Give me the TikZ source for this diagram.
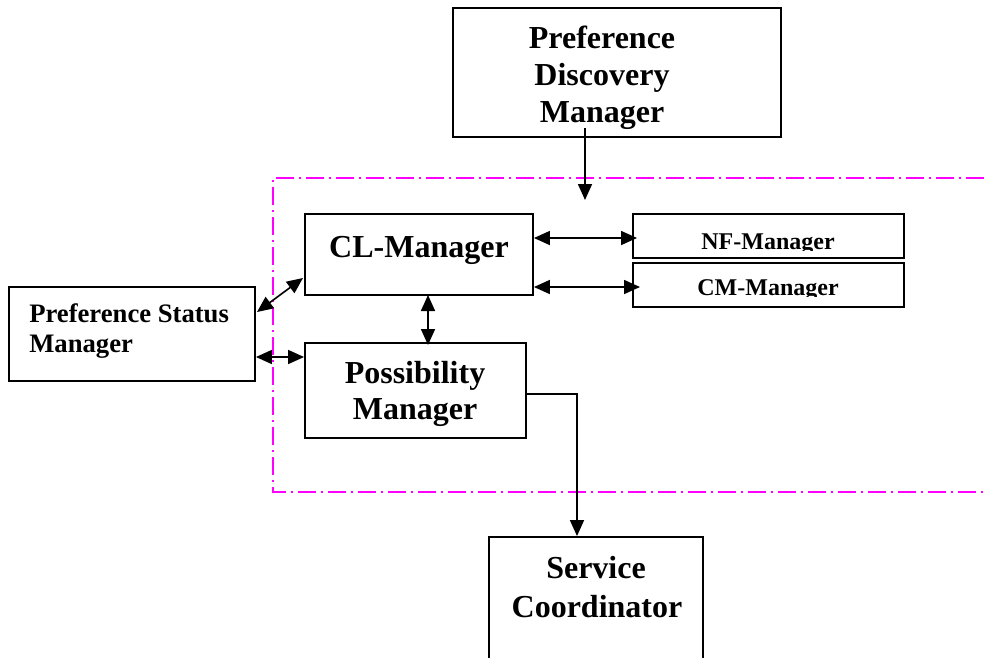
\documentclass[tikz,border=0pt]{standalone}
\usepackage{fontspec}
\setmainfont{Liberation Serif}
\usetikzlibrary{arrows.meta,fit}
\definecolor{zonepink}{RGB}{255,0,255}

\begin{document}
\begin{tikzpicture}[x=0.75pt,y=-0.75pt,
  box/.style={draw,line width=1.4pt,rectangle,inner sep=0pt},
  big/.style={anchor=base,inner sep=0pt,font=\bfseries\fontsize{24}{28}\selectfont},
  mid/.style={anchor=base west,inner sep=0pt,font=\bfseries\fontsize{20}{24}\selectfont},
  small/.style={anchor=base,inner sep=0pt,font=\bfseries\fontsize{18}{22}\selectfont},
  tip/.tip={Triangle[length=12pt,width=10.5pt]},
  conn/.style={line width=1.2pt,-tip},
  bidir/.style={line width=1.2pt,tip-tip},
  zone/.style={zonepink,line width=1.1pt,dash pattern=on 13.5pt off 3.75pt on 1.5pt off 3.75pt}
]
\clip (0,0) rectangle (984,657);

% dash-dotted boundary of the central group, open on the right
\draw[zone] (984,178) -- (273,178) -- (273,492) -- (984,492);

% boxes
\node[box,fit={(453,8) (781,137)}] (pdm) {};
\node[box,fit={(305,214) (533,295)}] (cl) {};
\node[box,fit={(633,214) (904,258)}] (nf) {};
\node[box,fit={(633,263) (904,307)}] (cm) {};
\node[box,fit={(9,287) (255,381)}] (psm) {};
\node[box,fit={(305,343) (526,438)}] (poss) {};
\node[box,fit={(489,537) (703,680)}] (sc) {};

% labels
\node[big] (pdm1) at (602,48) {Preference};
\node[big] (pdm2) at (602,85) {Discovery};
\node[big] (pdm3) at (602,122) {Manager};
\node[big] (cl1) at (419,257) {CL-Manager};
\node[big] (poss1) at (415,383) {Possibility};
\node[big] (poss2) at (415,419) {Manager};
\node[big] (sc1) at (596,578) {Service};
\node[big] (sc2) at (597,617) {Coordinator};
\node[mid] (psm1) at (29,322) {Preference Status};
\node[mid] (psm2) at (29,352) {Manager};
\begin{scope}
  \clip (633,214) rectangle (904,250);
  \node[small] (nf1) at (768,249) {NF-Manager};
\end{scope}
\begin{scope}
  \clip (633,263) rectangle (904,296);
  \node[small] (cm1) at (768,295) {CM-Manager};
\end{scope}

% connectors
\coordinate (pdmout) at (585,128);
\coordinate (zonein) at (585,200);
\draw[conn] (pdmout) -- (zonein);

\draw[bidir] (cl.east |- 0,238) -- (637,238);
\draw[bidir] (cl.east |- 0,287) -- (640,287);
\draw[bidir] (428,295) -- (428,345);
\coordinate (psmA) at (257,312);
\coordinate (clA) at (303,278);
\draw[bidir] (psmA) -- (clA);
\draw[bidir] (psm.east |- 0,357) -- (poss.west |- 0,357);
\draw[line width=1.2pt,-tip] (poss.east |- 0,394) -| (sc.north -| 577,0);
\end{tikzpicture}
\end{document}
